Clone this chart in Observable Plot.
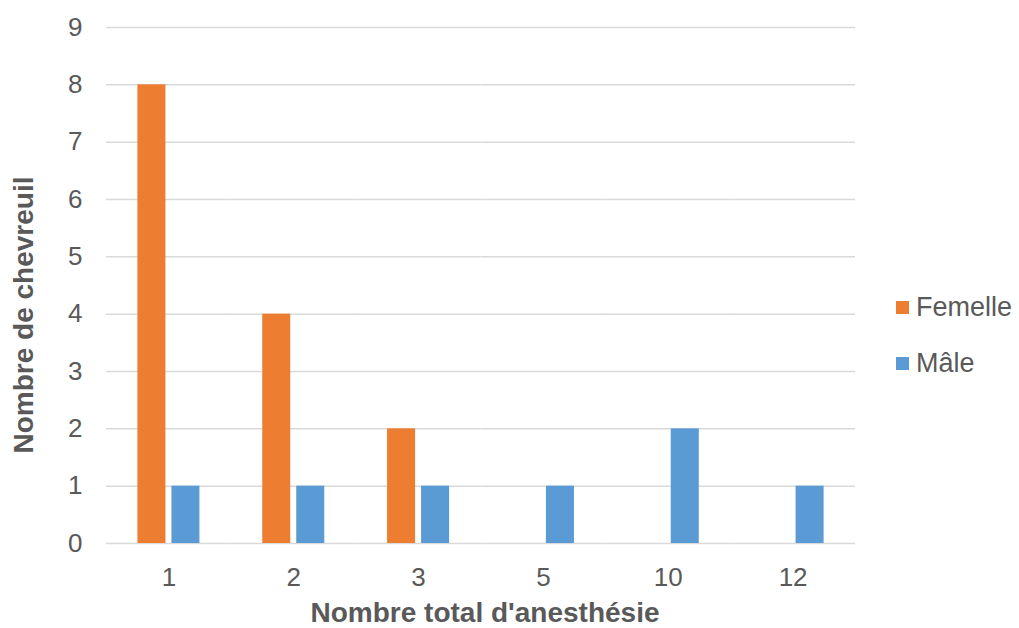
<!DOCTYPE html>
<html>
<head>
<meta charset="utf-8">
<script src="https://cdn.jsdelivr.net/npm/d3@7"></script>
<script src="https://cdn.jsdelivr.net/npm/@observablehq/plot@0.6"></script>
<style>
  html, body { margin: 0; padding: 0; background: #fff; }
  #wrap { position: relative; width: 1019px; height: 628px; font-family: "Liberation Sans", Arial, sans-serif; color: #595959; }
  .title { position: absolute; font-weight: bold; font-size: 28px; white-space: nowrap; line-height: 1; }
  .leg { position: absolute; left: 896px; font-size: 27px; white-space: nowrap; line-height: 1; display: flex; align-items: center; }
  .sw { width: 13px; height: 13px; margin-right: 7px; }
</style>
</head>
<body>
<div id="wrap"></div>
<script>
const categories = ["1", "2", "3", "5", "10", "12"];
const femelle = [8, 4, 2, 0, 0, 0];
const male = [1, 1, 1, 1, 2, 1];
const series = ["Femelle", "Mâle"];
const colors = ["#ED7D31", "#5B9BD5"];
const yTicks = [0, 1, 2, 3, 4, 5, 6, 7, 8, 9];
const xTitle = "Nombre total d'anesthésie";
const yTitle = "Nombre de chevreuil";

const data = [];
categories.forEach((c, i) => {
  data.push({cat: c, sex: series[0], n: femelle[i]});
  data.push({cat: c, sex: series[1], n: male[i]});
});

const chart = Plot.plot({
  width: 1019,
  height: 628,
  marginLeft: 106,
  marginRight: 164,
  marginTop: 27,
  marginBottom: 85,
  style: {fontFamily: "'Liberation Sans', Arial, sans-serif", fontSize: "26px", color: "#595959", background: "#fff"},
  fx: {domain: categories, padding: 0, round: false, label: null, tickSize: 0, tickPadding: 24},
  x: {domain: series, paddingInner: 0.176, paddingOuter: 0.923, round: false, axis: null},
  y: {domain: [0, 9], ticks: yTicks, tickSize: 0, tickPadding: 24, label: null, tickFormat: d3.format("d")},
  color: {domain: series, range: colors},
  marks: [
    Plot.gridY(yTicks, {stroke: "#d9d9d9", strokeOpacity: 1, strokeWidth: 1.5}),
    Plot.barY(data, {fx: "cat", x: "sex", y: "n", fill: "sex", insetLeft: 0, insetRight: 0})
  ]
});

const wrap = document.getElementById("wrap");
wrap.appendChild(chart);

const xt = document.createElement("div");
xt.className = "title";
xt.textContent = xTitle;
xt.style.left = "485px";
xt.style.top = "599px";
xt.style.transform = "translateX(-50%)";
wrap.appendChild(xt);

const yt = document.createElement("div");
yt.className = "title";
yt.textContent = yTitle;
yt.style.left = "24px";
yt.style.top = "315px";
yt.style.transform = "translate(-50%, -50%) rotate(-90deg)";
wrap.appendChild(yt);

const legY = [307, 363];
series.forEach((s, i) => {
  const d = document.createElement("div");
  d.className = "leg";
  d.style.top = (legY[i] - 14) + "px";
  d.style.height = "28px";
  const sw = document.createElement("span");
  sw.className = "sw";
  sw.style.background = colors[i];
  const t = document.createElement("span");
  t.textContent = s;
  d.appendChild(sw);
  d.appendChild(t);
  wrap.appendChild(d);
});
</script>
</body>
</html>
